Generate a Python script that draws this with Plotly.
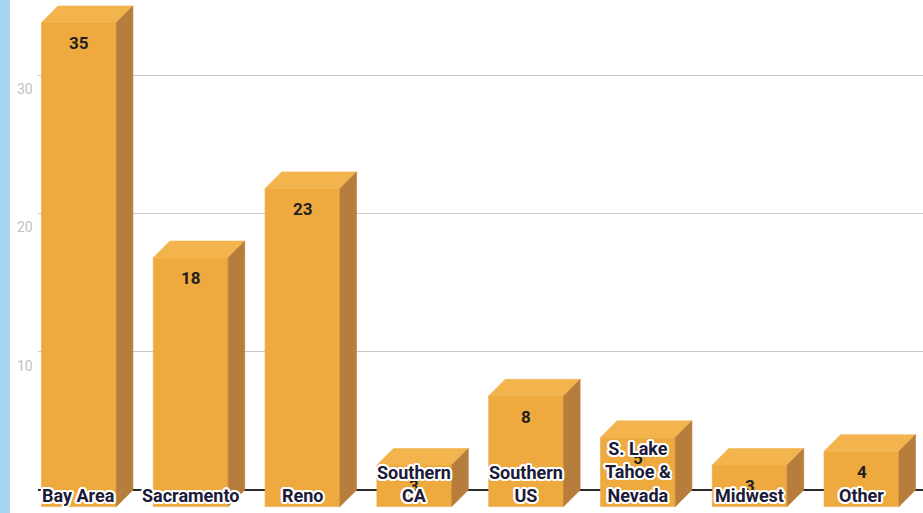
import plotly.graph_objects as go

# Respondent origin counts
categories = ["Bay Area", "Sacramento", "Reno", "Southern<br>CA", "Southern<br>US",
              "S. Lake<br>Tahoe &<br>Nevada", "Midwest", "Other"]
values = [35, 18, 23, 3, 8, 5, 3, 4]
tick_values = [10, 20, 30]

# 3D extrusion geometry (in axis units)
BAR_W = 0.67      # face width in category units
DX = 0.148        # horizontal depth offset
DY = 1.2          # vertical depth offset

FRONT = "#EFAA3F"
TOP = "#F3B44E"
SIDE = "#B77D3C"

fig = go.Figure()

for i, v in enumerate(values):
    l, r = i - BAR_W / 2, i + BAR_W / 2
    faces = [
        # front face
        ([l - DX, r - DX, r - DX, l - DX, l - DX], [-DY, -DY, v - DY, v - DY, -DY], FRONT),
        # top face
        ([l - DX, r - DX, r, l, l - DX], [v - DY, v - DY, v, v, v - DY], TOP),
        # right side face
        ([r - DX, r, r, r - DX, r - DX], [-DY, 0, v, v - DY, -DY], SIDE),
    ]
    for xs, ys, col in faces:
        fig.add_trace(go.Scatter(
            x=xs, y=ys, mode="lines", fill="toself", fillcolor=col,
            line=dict(color=col, width=0.6), hoverinfo="skip", showlegend=False,
        ))

# white outline around the category labels
offsets = [(1, 1), (-1, -1), (1, -1), (-1, 1), (0, 2), (0, -2), (2, 0), (-2, 0),
           (2, 1), (-2, 1), (2, -1), (-2, -1), (1, 2), (-1, 2), (1, -2), (-1, -2)]
halo = ", ".join(f"{a}px {b}px 0 #fff" for a, b in offsets)

annotations = []
# value labels near the top of each front face
for i, v in enumerate(values):
    annotations.append(dict(
        x=i - DX, y=v - DY - 1.5, xref="x", yref="y", text=f"<b>{v}</b>",
        showarrow=False, yanchor="middle", xanchor="center",
        font=dict(family="Roboto", size=17, color="#1f1f1f"),
    ))
# category labels at the bottom of each front face
for i, c in enumerate(categories):
    annotations.append(dict(
        x=i - DX, y=-1.3, xref="x", yref="y", text=f"<b>{c}</b>",
        showarrow=False, yanchor="bottom", xanchor="center",
        font=dict(family="Roboto", size=18, color="#1b1b38", shadow=halo),
    ))
# y tick labels sit on the front plane, below their gridlines
for t in tick_values:
    annotations.append(dict(
        x=0, y=t - 1.0, xref="paper", yref="y", text=str(t),
        showarrow=False, xanchor="right", yanchor="middle", xshift=-3,
        font=dict(family="Roboto", size=14, color="#c2c2c2"),
    ))

fig.update_layout(
    width=923, height=513,
    margin=dict(l=38, r=0, t=0, b=0),
    paper_bgcolor="white", plot_bgcolor="white",
    annotations=annotations,
    shapes=[dict(type="rect", xref="paper", yref="paper",
                 x0=-38 / 885, x1=-28 / 885, y0=0, y1=1,
                 fillcolor="#A6D6F2", line=dict(width=0), layer="below")],
    xaxis=dict(range=[-0.514, 7.402], showgrid=False, zeroline=False,
               showticklabels=False, fixedrange=True),
    yaxis=dict(range=[-1.663, 35.43], tickvals=[0] + tick_values, showticklabels=False,
               showgrid=True, gridcolor="#c8c8c8", gridwidth=1,
               zeroline=True, zerolinecolor="#2a2a2a", zerolinewidth=2,
               fixedrange=True),
)

fig.write_html("out.html")
